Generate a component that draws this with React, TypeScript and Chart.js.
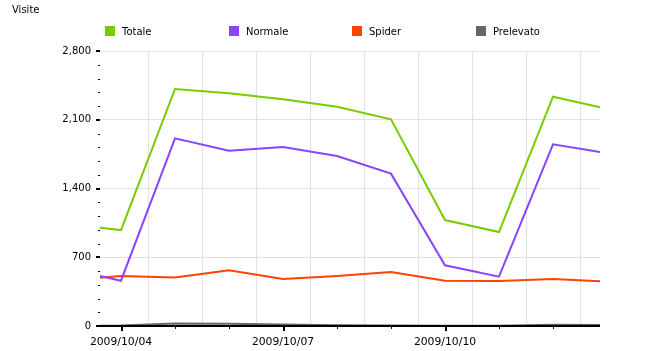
import React, { useEffect, useRef } from "react";
import { Chart, registerables } from "chart.js";

Chart.register(...registerables);

const dates = [
  "2009/10/03", "2009/10/04", "2009/10/05", "2009/10/06", "2009/10/07", "2009/10/08",
  "2009/10/09", "2009/10/10", "2009/10/11", "2009/10/12", "2009/10/13",
];
const totale = [1039, 977, 2413, 2369, 2308, 2233, 2104, 1079, 957, 2335, 2211];
const normale = [584, 461, 1911, 1785, 1822, 1731, 1551, 618, 502, 1850, 1759];
const spider = [465, 509, 494, 567, 479, 509, 550, 461, 458, 479, 451];
const prelevato = [0, 5, 25, 22, 15, 8, 5, 3, 3, 12, 10];

const legendItems = [
  { label: "Totale", color: "#77cc00" },
  { label: "Normale", color: "#8844ff" },
  { label: "Spider", color: "#ff4400" },
  { label: "Prelevato", color: "#666666" },
];

const yMajor = 700;
const yMinor = 140;
const yMax = 2800;
const xMin = -21 / 54;
const xMax = 479 / 54;
const FONT = "'DejaVu Sans', sans-serif";

const toPoints = (arr: number[]) => arr.map((v, i) => ({ x: i - 1, y: v }));

const decorPlugin = {
  id: "decor",
  afterDatasetsDraw(chart: any) {
    const ctx = chart.ctx;
    const ys = chart.scales.y;
    const xs = chart.scales.x;
    const area = chart.chartArea;
    ctx.save();
    ctx.fillStyle = "#000";
    for (let v = 0; v <= yMax; v += yMinor) {
      const y = Math.round(ys.getPixelForValue(v));
      if (v % yMajor === 0) ctx.fillRect(area.left - 4, y - 1, 4, 2);
      else ctx.fillRect(area.left - 2, y, 2, 1);
    }
    ctx.fillRect(area.left - 4, area.bottom - 1, area.right - area.left + 4, 2);
    for (let d = 0; d < dates.length - 1; d++) {
      const x = xs.getPixelForValue(d);
      if (x < area.left || x > area.right) continue;
      if (d % 3 === 0) ctx.fillRect(Math.round(x), area.bottom + 1, 2, 4);
      else ctx.fillRect(Math.round(x), area.bottom + 1, 1, 2);
    }
    ctx.font = "10px " + FONT;
    ctx.textBaseline = "alphabetic";
    ctx.textAlign = "left";
    ctx.fillText("Visite", 12, 13);
    legendItems.forEach((it, i) => {
      const x0 = 105 + i * 123.7;
      ctx.fillStyle = it.color;
      ctx.fillRect(Math.round(x0), 26, 10, 10);
      ctx.fillStyle = "#000";
      ctx.fillText(it.label, Math.round(x0) + 17, 35);
    });
    ctx.restore();
  },
};

export default function App() {
  const ref = useRef<HTMLCanvasElement>(null);
  useEffect(() => {
    if (!ref.current) return;
    const mk = (label: string, data: number[], color: string) => ({
      label,
      data: toPoints(data),
      borderColor: color,
      backgroundColor: color,
      borderWidth: 2,
      pointRadius: 0,
      tension: 0,
      clip: { left: 0, right: 0, top: 5, bottom: 5 },
    });
    const chart = new Chart(ref.current, {
      type: "line",
      data: {
        datasets: [
          mk("Totale", totale, "#77cc00"),
          mk("Normale", normale, "#8844ff"),
          mk("Spider", spider, "#ff4400"),
          mk("Prelevato", prelevato, "#666666"),
        ],
      },
      options: {
        animation: false,
        responsive: false,
        devicePixelRatio: 1,
        layout: { padding: { left: 0, right: 62, top: 51, bottom: 0 } },
        plugins: { legend: { display: false }, tooltip: { enabled: false } },
        font: { family: FONT, size: 10 },
        scales: {
          x: {
            type: "linear",
            min: xMin,
            max: xMax,
            afterBuildTicks: (scale: any) => {
              const t: any[] = [];
              for (let v = -0.5; v <= 9; v += 0.5) {
                if (v >= xMin && v <= xMax) t.push({ value: v });
              }
              scale.ticks = t;
            },
            afterFit: (scale: any) => {
              scale.height = 25;
            },
            border: { display: false },
            grid: {
              drawTicks: false,
              color: (c: any) =>
                c.tick && !Number.isInteger(c.tick.value) ? "#e2e2e2" : "rgba(0,0,0,0)",
              lineWidth: 1,
            },
            ticks: {
              autoSkip: false,
              maxRotation: 0,
              minRotation: 0,
              padding: 10,
              color: "#000",
              font: { family: FONT, size: 10.8 },
              callback: (v: any) => {
                const n = Number(v);
                return Number.isInteger(n) && n % 3 === 0 ? dates[n + 1] : "";
              },
            },
          },
          y: {
            min: 0,
            max: yMax,
            afterFit: (scale: any) => {
              scale.width = 100;
            },
            border: { display: false },
            grid: {
              drawTicks: false,
              color: (c: any) =>
                c.tick && c.tick.value % yMajor === 0 && c.tick.value !== 0
                  ? "#e2e2e2"
                  : "rgba(0,0,0,0)",
              lineWidth: 1,
            },
            ticks: {
              stepSize: yMinor,
              autoSkip: false,
              padding: 9,
              color: "#000",
              font: { family: FONT, size: 10 },
              callback: (v: any) =>
                Number(v) % yMajor === 0 ? Number(v).toLocaleString("en-US") : "",
            },
          },
        },
      },
      plugins: [decorPlugin],
    } as any);
    return () => chart.destroy();
  }, []);
  return (
    <div style={{ position: "absolute", left: 0, top: 0, width: 662, height: 351 }}>
      <canvas ref={ref} width={662} height={351} style={{ display: "block" }} />
    </div>
  );
}
